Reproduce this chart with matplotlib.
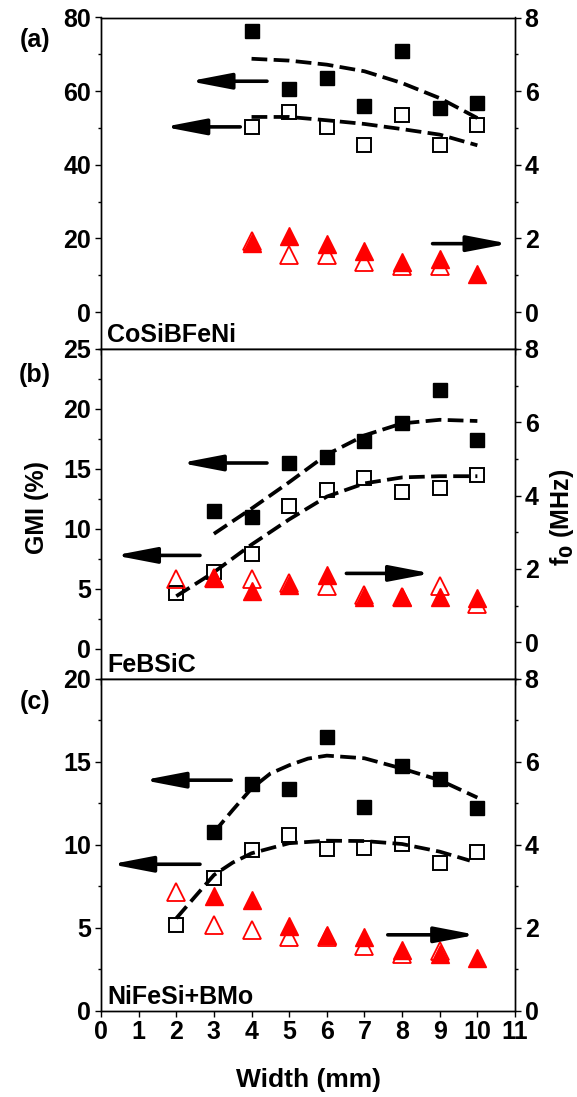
import matplotlib
matplotlib.use('Agg')
import matplotlib.pyplot as plt
from matplotlib.ticker import MultipleLocator

plt.rcParams['font.family'] = ['Liberation Sans', 'DejaVu Sans']
plt.rcParams['font.weight'] = 'bold'
plt.rcParams['axes.labelweight'] = 'bold'

# ---------------- data ----------------
panel_names = ['CoSiBFeNi', 'FeBSiC', 'NiFeSi+BMo']
panel_letters = ['(a)', '(b)', '(c)']

# panel (a) CoSiBFeNi
w_a = [4, 5, 6, 7, 8, 9, 10]
gmi_fill_a = [76.2, 60.6, 63.5, 55.9, 70.8, 55.4, 56.8]
gmi_open_a = [50.3, 54.3, 50.3, 45.4, 53.6, 45.4, 50.7]
fitx_a = [4, 5, 6, 7, 8, 9, 10]
fit_fill_a = [68.8, 68.3, 67.2, 65.4, 62.2, 58.1, 52.7]
fit_open_a = [53.0, 53.0, 52.1, 51.1, 49.7, 48.2, 45.3]
wf_fill_a = [4, 5, 6, 7, 8, 9, 10]
f0_fill_a = [1.87, 2.06, 1.85, 1.66, 1.36, 1.45, 1.04]
wf_open_a = [4, 5, 6, 7, 8, 9]
f0_open_a = [1.92, 1.54, 1.56, 1.36, 1.25, 1.25]

# panel (b) FeBSiC
w_fill_b = [3, 4, 5, 6, 7, 8, 9, 10]
gmi_fill_b = [11.5, 11.0, 15.5, 16.0, 17.3, 18.8, 21.6, 17.4]
w_open_b = [2, 3, 4, 5, 6, 7, 8, 9, 10]
gmi_open_b = [4.7, 6.4, 7.9, 11.9, 13.25, 14.25, 13.1, 13.4, 14.5]
fitx_fill_b = [3, 4, 5, 6, 7, 8, 9, 10]
fit_fill_b = [9.6, 11.7, 13.9, 16.2, 17.8, 18.8, 19.1, 19.0]
fitx_open_b = [2, 3, 4, 5, 6, 7, 8, 9, 10]
fit_open_b = [4.4, 6.4, 8.7, 10.8, 12.7, 13.8, 14.3, 14.4, 14.4]
wf_fill_b = [3, 4, 5, 6, 7, 8, 9, 10]
f0_fill_b = [1.75, 1.41, 1.56, 1.83, 1.24, 1.24, 1.24, 1.22]
wf_open_b = [2, 3, 4, 5, 6, 7, 8, 9, 10]
f0_open_b = [1.73, 1.76, 1.73, 1.63, 1.54, 1.29, 1.24, 1.54, 1.05]

# panel (c) NiFeSi+BMo
w_fill_c = [3, 4, 5, 6, 7, 8, 9, 10]
gmi_fill_c = [10.8, 13.65, 13.35, 16.5, 12.3, 14.75, 13.95, 12.25]
w_open_c = [2, 3, 4, 5, 6, 7, 8, 9, 10]
gmi_open_c = [5.15, 8.0, 9.67, 10.58, 9.77, 9.8, 10.04, 8.93, 9.57]
fitx_fill_c = [3, 3.5, 4, 4.5, 5, 5.5, 6, 7, 8, 9, 10]
fit_fill_c = [10.75, 12.1, 13.4, 14.3, 14.8, 15.2, 15.38, 15.22, 14.6, 13.9, 12.85]
fitx_open_c = [2, 2.5, 3, 3.5, 4, 5, 6, 7, 8, 9, 9.8]
fit_open_c = [5.57, 6.88, 8.18, 8.93, 9.49, 10.1, 10.25, 10.23, 10.05, 9.59, 9.05]
wf_fill_c = [3, 4, 5, 6, 7, 8, 9, 10]
f0_fill_c = [2.76, 2.67, 2.05, 1.83, 1.77, 1.46, 1.37, 1.27]
wf_open_c = [2, 3, 4, 5, 6, 7, 8, 9]
f0_open_c = [2.86, 2.06, 1.95, 1.77, 1.77, 1.57, 1.37, 1.45]

# axis settings per panel
left_lims = [(-10, 80), (-2.5, 25), (0, 20)]
left_major = [20, 5, 5]
left_minor = [10, 2.5, 2.5]
right_lims = [(-1, 8), (-1, 8), (0, 8)]

# arrows: (tail_x, tail_y) -> (tip_x, tip_y); left arrows in GMI units, right in f0 units
arrows_left = [
    [((4.41, 62.7), (2.35, 62.7)), ((3.70, 50.3), (1.68, 50.3))],
    [((4.41, 15.5), (2.12, 15.5)), ((2.63, 7.8), (0.37, 7.8))],
    [((3.46, 13.9), (1.13, 13.9)), ((2.63, 8.83), (0.27, 8.83))],
]
arrows_right = [
    ((8.81, 1.86), (10.83, 1.86)),
    ((6.52, 1.88), (8.77, 1.88)),
    ((7.62, 1.83), (9.97, 1.83)),
]

panels = [
    dict(wf=w_a, gf=gmi_fill_a, wo=w_a, go=gmi_open_a,
         fxf=fitx_a, ff=fit_fill_a, fxo=fitx_a, fo=fit_open_a,
         tff=wf_fill_a, tf=f0_fill_a, tfo=wf_open_a, to=f0_open_a),
    dict(wf=w_fill_b, gf=gmi_fill_b, wo=w_open_b, go=gmi_open_b,
         fxf=fitx_fill_b, ff=fit_fill_b, fxo=fitx_open_b, fo=fit_open_b,
         tff=wf_fill_b, tf=f0_fill_b, tfo=wf_open_b, to=f0_open_b),
    dict(wf=w_fill_c, gf=gmi_fill_c, wo=w_open_c, go=gmi_open_c,
         fxf=fitx_fill_c, ff=fit_fill_c, fxo=fitx_open_c, fo=fit_open_c,
         tff=wf_fill_c, tf=f0_fill_c, tfo=wf_open_c, to=f0_open_c),
]

# ---------------- figure ----------------
W, H = 577, 1097
fig = plt.figure(figsize=(W / 100, H / 100), dpi=100)

x0, x1 = 101, 515
tops = [17.5, 349, 679]
bots = [349, 679, 1010.7]

FS = 18
arrow_style = '-|>,head_length=1.25,head_width=0.24'

for i, p in enumerate(panels):
    rect = [x0 / W, 1 - bots[i] / H, (x1 - x0) / W, (bots[i] - tops[i]) / H]
    ax = fig.add_axes(rect)
    ax2 = ax.twinx()
    for a in (ax, ax2):
        for s in a.spines.values():
            s.set_linewidth(1.0)
    ax.set_xlim(0, 11)
    ax.set_ylim(*left_lims[i])
    ax2.set_ylim(*right_lims[i])
    ax.xaxis.set_major_locator(MultipleLocator(1))
    ax.yaxis.set_major_locator(MultipleLocator(left_major[i]))
    ax.yaxis.set_minor_locator(MultipleLocator(left_minor[i]))
    ax2.yaxis.set_major_locator(MultipleLocator(2))
    ax2.yaxis.set_minor_locator(MultipleLocator(1))
    ax.tick_params(axis='both', which='major', direction='out', length=4, width=1,
                   labelsize=FS, pad=3)
    ax.tick_params(axis='y', which='minor', direction='out', length=2.5, width=1)
    ax2.tick_params(axis='y', which='major', direction='out', length=4, width=1,
                    labelsize=FS, pad=3)
    ax2.tick_params(axis='y', which='minor', direction='out', length=2.5, width=1)
    for lab in ax.get_yticklabels() + ax2.get_yticklabels() + ax.get_xticklabels():
        lab.set_fontweight('bold')
    if i < 2:
        ax.tick_params(axis='x', labelbottom=False)

    # GMI squares and fits
    ax.plot(p['wf'], p['gf'], 's', ms=10, mfc='black', mec='black', zorder=3)
    ax.plot(p['wo'], p['go'], 's', ms=10, mfc='none', mec='black', mew=1.4, zorder=3)
    ax.plot(p['fxf'], p['ff'], '--', color='black', lw=2.7, dashes=(4.2, 1.7), zorder=4)
    ax.plot(p['fxo'], p['fo'], '--', color='black', lw=2.7, dashes=(4.2, 1.7), zorder=4)

    # f0 triangles
    ax2.plot(p['tfo'], p['to'], '^', ms=13, mfc='none', mec='red', mew=1.3, zorder=3)
    ax2.plot(p['tff'], p['tf'], '^', ms=13, mfc='red', mec='red', zorder=4)

    # arrows
    for tail, tip in arrows_left[i]:
        ax.annotate('', xy=tip, xytext=tail,
                    arrowprops=dict(arrowstyle=arrow_style, lw=2.6, color='black',
                                    mutation_scale=20, shrinkA=0, shrinkB=0))
    tail, tip = arrows_right[i]
    ax2.annotate('', xy=tip, xytext=tail,
                 arrowprops=dict(arrowstyle=arrow_style, lw=2.6, color='black',
                                 mutation_scale=20, shrinkA=0, shrinkB=0))

    # sample name
    ax.text(0.015, 0.005, panel_names[i], transform=ax.transAxes, fontsize=FS,
            fontweight='bold', ha='left', va='bottom')
    # panel letter
    fig.text(35 / W, 1 - [40, 375, 702][i] / H, panel_letters[i], fontsize=FS,
             fontweight='bold', ha='center', va='center')

fig.text(37 / W, 1 - 508 / H, 'GMI (%)', rotation=90, fontsize=FS,
         fontweight='bold', ha='center', va='center')
fig.text(562 / W, 1 - 517 / H, 'f$_\\mathbf{0}$ (MHz)', rotation=90, fontsize=FS,
         fontweight='bold', ha='center', va='center')
fig.text(308 / W, 1 - 1080 / H, 'Width (mm)', fontsize=FS + 1,
         fontweight='bold', ha='center', va='center')

fig.savefig('out.png', dpi=100)
